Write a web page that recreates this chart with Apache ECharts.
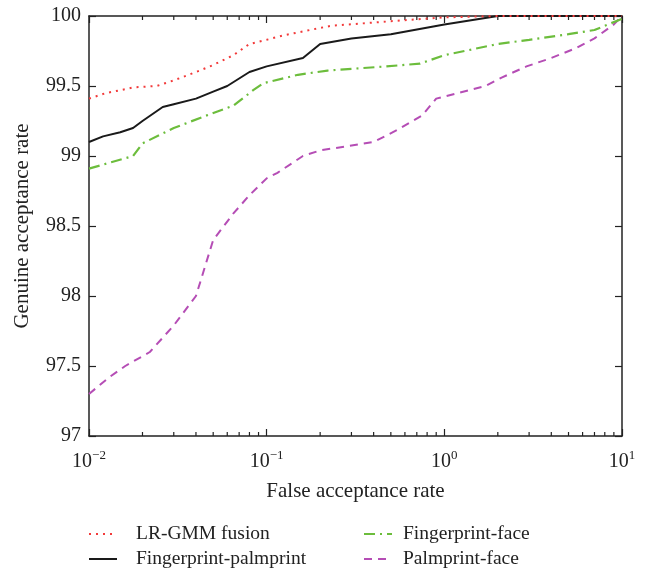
<!DOCTYPE html>
<html><head><meta charset="utf-8">
<script src="https://cdn.jsdelivr.net/npm/echarts@6/dist/echarts.min.js"></script>
<style>html,body{margin:0;padding:0;background:#fff}#c{width:649px;height:573px}</style>
</head><body><div id="c"></div>
<script>
// False acceptance rate (%) and genuine acceptance rate (%) per method
var lrX  = [0.01,0.0125,0.015,0.0177,0.024,0.03,0.042,0.05,0.065,0.08,0.1,0.123,0.16,0.23,0.47,1,2,10];
var lrY  = [99.41,99.45,99.47,99.49,99.5,99.54,99.61,99.65,99.72,99.8,99.83,99.86,99.89,99.93,99.96,99.99,100,100];
var fpX  = [0.01,0.012,0.015,0.0177,0.02,0.026,0.03,0.04,0.05,0.06,0.08,0.1,0.16,0.2,0.3,0.5,1,2,10];
var fpY  = [99.1,99.14,99.17,99.2,99.25,99.35,99.37,99.41,99.46,99.5,99.6,99.64,99.7,99.8,99.84,99.87,99.94,100,100];
var ffX  = [0.01,0.0177,0.02,0.03,0.046,0.065,0.084,0.096,0.15,0.22,0.47,0.73,1,2,3,5,7,10];
var ffY  = [98.91,99.0,99.09,99.2,99.29,99.36,99.47,99.52,99.58,99.61,99.64,99.66,99.72,99.8,99.83,99.87,99.9,99.98];
var pfX  = [0.01,0.013,0.016,0.022,0.03,0.04,0.05,0.065,0.08,0.1,0.115,0.16,0.2,0.4,0.55,0.75,0.9,1.7,2.1,2.9,4,5.5,7,9,10];
var pfY  = [97.3,97.42,97.5,97.6,97.79,98.0,98.4,98.59,98.72,98.84,98.88,99.0,99.04,99.1,99.19,99.29,99.41,99.5,99.56,99.64,99.7,99.77,99.84,99.94,100];
var names = ['LR-GMM fusion','Fingerprint-palmprint','Fingerprint-face','Palmprint-face'];
var xTickLabels = {'0.01':'10{s|\u22122}','0.1':'10{s|\u22121}','1':'10{s|0}','10':'10{s|1}'};

function zip(a,b){return a.map(function(v,i){return [v,b[i]];});}
var FONT = '"Liberation Serif", "DejaVu Serif", serif';
var chart = echarts.init(document.getElementById('c'));
var gridL=89, gridT=16, gridR=27, gridB=137;
function logAxis(pos){
  return {type:'log', logBase:10, min:0.01, max:10, gridIndex:0, position:pos,
    axisLine:{show:true,onZero:false,lineStyle:{color:'#222',width:1.5}},
    axisTick:{show:true,inside:true,length:7,lineStyle:{color:'#222',width:1.2}},
    splitLine:{show:false}, minorTick:{show:false}, minorSplitLine:{show:false}, axisLabel:{show:false}};
}
function valAxis(pos){
  return {type:'value', min:97, max:100, interval:0.5, gridIndex:0, position:pos,
    axisLine:{show:true,onZero:false,lineStyle:{color:'#222',width:1.5}},
    axisTick:{show:true,inside:true,length:7,lineStyle:{color:'#222',width:1.2}},
    splitLine:{show:false}, axisLabel:{show:false}};
}
var xb = logAxis('bottom');
xb.name = 'False acceptance rate'; xb.nameLocation='middle'; xb.nameGap=45;
xb.nameTextStyle = {fontFamily:FONT,fontSize:21,color:'#222'};
xb.axisLabel = {show:true, margin:13, color:'#222', fontFamily:FONT, fontSize:20,
  formatter:function(v){var k=String(+(+v).toPrecision(3)); return xTickLabels[k]||'';},
  rich:{s:{fontSize:13, fontFamily:FONT, color:'#222', padding:[0,0,12,0]}}};
var yl = valAxis('left');
yl.name = 'Genuine acceptance rate'; yl.nameLocation='middle'; yl.nameGap=56;
yl.nameTextStyle = {fontFamily:FONT,fontSize:21,color:'#222'};
yl.axisLabel = {show:true, margin:8, color:'#222', fontFamily:FONT, fontSize:20};

function legendBlock(items, left, textPad){
  return {data:items, orient:'vertical', left:left, top:524, padding:0, height:60, itemGap:5,
    itemWidth:28, itemHeight:14,
    itemStyle:{opacity:0},
    textStyle:{fontFamily:FONT,fontSize:19.5,color:'#222', padding:[0,0,0,textPad]}, selectedMode:false};
}
var option = {
  animation:false,
  backgroundColor:'#fff',
  textStyle:{fontFamily:FONT},
  grid:{left:gridL, top:gridT, right:gridR, bottom:gridB, containLabel:false},
  xAxis:[xb, logAxis('top')],
  yAxis:[yl, valAxis('right')],
  legend:[legendBlock([names[0],names[1]],88,14), legendBlock([names[2],names[3]],363,6)],
  series:[
    {name:names[0], type:'line', data:zip(lrX,lrY), showSymbol:false, symbol:'none', z:5,
     lineStyle:{color:'#f23a3a', width:2, type:[2,5]}, itemStyle:{color:'#f23a3a'}},
    {name:names[1], type:'line', data:zip(fpX,fpY), showSymbol:false, symbol:'none', z:4,
     lineStyle:{color:'#1a1a1a', width:2, type:'solid'}, itemStyle:{color:'#1a1a1a'}},
    {name:names[2], type:'line', data:zip(ffX,ffY), showSymbol:false, symbol:'none', z:3,
     lineStyle:{color:'#6cbd3c', width:2.2, type:[11,5,2,5]}, itemStyle:{color:'#6cbd3c'}},
    {name:names[3], type:'line', data:zip(pfX,pfY), showSymbol:false, symbol:'none', z:2,
     lineStyle:{color:'#b54db5', width:2, type:[8,6]}, itemStyle:{color:'#b54db5'}}
  ]
};
chart.setOption(option);

// minor log ticks (2..9 per decade) on bottom and top axes, positioned by the axis scale
var g = [];
var plotTop = gridT, plotBot = 573 - gridB;
[0.01,0.1,1].forEach(function(d){
  for (var m=2;m<=9;m++){
    var px = chart.convertToPixel({xAxisIndex:0}, d*m);
    g.push({type:'line', shape:{x1:px,y1:plotBot,x2:px,y2:plotBot-4}, style:{stroke:'#222',lineWidth:1.2}, silent:true});
    g.push({type:'line', shape:{x1:px,y1:plotTop,x2:px,y2:plotTop+4}, style:{stroke:'#222',lineWidth:1.2}, silent:true});
  }
});
chart.setOption({graphic:g});
</script></body></html>
